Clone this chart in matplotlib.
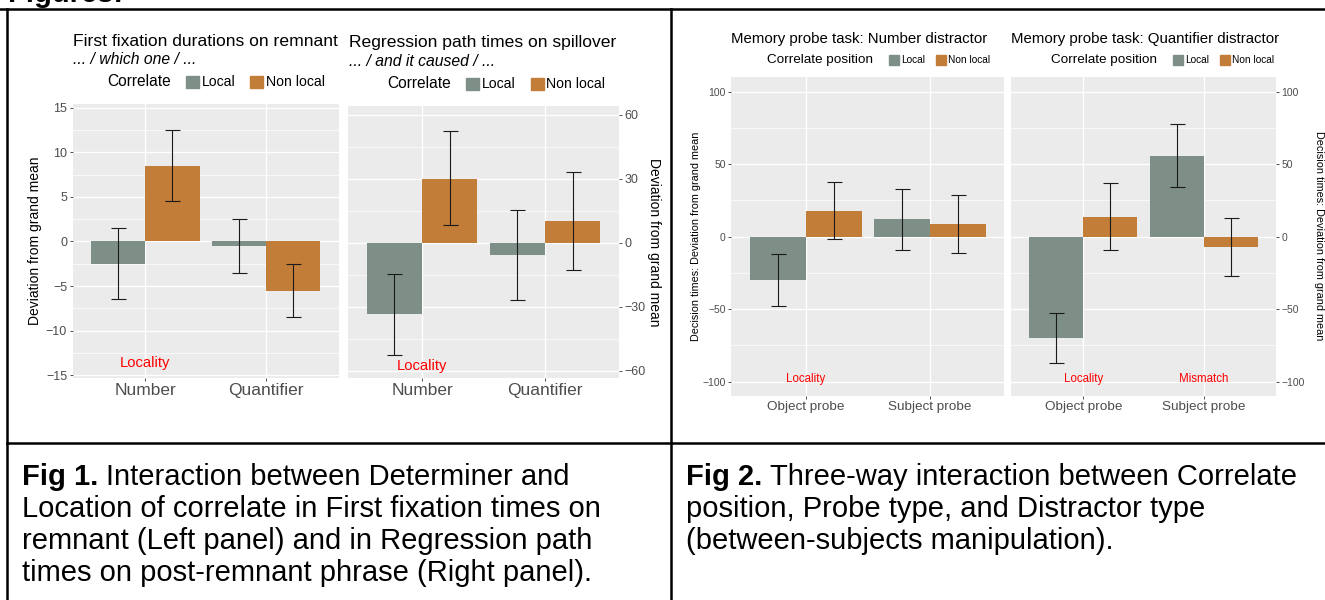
#!/usr/bin/env python3
import numpy as np

import matplotlib
matplotlib.use("Agg")
import matplotlib.pyplot as plt
from matplotlib.lines import Line2D
from matplotlib.patches import Rectangle

W, H = 1325, 600

LOCAL_COLOR = "#7E8F88"
NONLOCAL_COLOR = "#C27D38"
TICK_GRAY = "#4D4D4D"

# Fig 1 data
fig1_cats = ["Number", "Quantifier"]
ffd_local = [-2.5, -0.5]
ffd_local_lo = [-6.5, -3.5]
ffd_local_hi = [1.5, 2.5]
ffd_nonlocal = [8.5, -5.5]
ffd_nonlocal_lo = [4.5, -8.5]
ffd_nonlocal_hi = [12.5, -2.5]

rpt_local = [-33.6, -5.8]
rpt_local_lo = [-52.9, -26.8]
rpt_local_hi = [-14.9, 15.2]
rpt_nonlocal = [30.0, 10.2]
rpt_nonlocal_lo = [8.1, -12.7]
rpt_nonlocal_hi = [52.3, 33.2]

# Fig 2 data
fig2_cats = ["Object probe", "Subject probe"]
num_local = [-30.1, 12.0]
num_local_lo = [-47.8, -9.0]
num_local_hi = [-12.2, 32.9]
num_nonlocal = [17.7, 9.0]
num_nonlocal_lo = [-1.8, -11.0]
num_nonlocal_hi = [37.9, 29.0]

quant_local = [-70.1, 55.9]
quant_local_lo = [-86.9, 34.0]
quant_local_hi = [-52.9, 77.9]
quant_nonlocal = [13.8, -6.9]
quant_nonlocal_lo = [-9.4, -27.1]
quant_nonlocal_hi = [37.0, 12.9]

caption1 = [
    "Interaction between Determiner and",
    "Location of correlate in First fixation times on",
    "remnant (Left panel) and in Regression path",
    "times on post-remnant phrase (Right panel).",
]
caption2 = [
    "Three-way interaction between Correlate",
    "position, Probe type, and Distractor type",
    "(between-subjects manipulation).",
]


def px_rect(x0, y0, x1, y1):
    return [x0 / W, 1 - y1 / H, (x1 - x0) / W, (y1 - y0) / H]


def ftext(fig, x, y, s, **kw):
    kw.setdefault("va", "center")
    return fig.text(x / W, 1 - y / H, s, **kw)


def draw_panel(fig, rect, cats, local, local_lo, local_hi, nonlocal_, nl_lo, nl_hi,
               ylim, yticks, yminor, side, tick_fs, xtick_fs, notes, note_y, note_fs):
    ax = fig.add_axes(px_rect(*rect))
    ax.set_facecolor("#EBEBEB")
    x = np.arange(1, len(cats) + 1)
    w = 0.45
    local = np.asarray(local)
    nonlocal_ = np.asarray(nonlocal_)
    ax.bar(x - w / 2, local, width=w, color=LOCAL_COLOR, zorder=2)
    ax.bar(x + w / 2, nonlocal_, width=w, color=NONLOCAL_COLOR, zorder=2)
    ax.errorbar(x - w / 2, local, yerr=[local - np.asarray(local_lo), np.asarray(local_hi) - local],
                fmt="none", ecolor="#1A1A1A", elinewidth=0.8, capsize=5.4, capthick=0.8, zorder=3)
    ax.errorbar(x + w / 2, nonlocal_, yerr=[nonlocal_ - np.asarray(nl_lo), np.asarray(nl_hi) - nonlocal_],
                fmt="none", ecolor="#1A1A1A", elinewidth=0.8, capsize=5.4, capthick=0.8, zorder=3)
    ax.set_xlim(0.4, 2.6)
    ax.set_ylim(*ylim)
    ax.set_xticks(x, cats, fontsize=xtick_fs, color=TICK_GRAY)
    ax.set_yticks(yticks)
    ax.set_yticks(yminor, minor=True)
    ax.set_yticklabels([f"{t:g}".replace("-", "\u2212") for t in yticks], fontsize=tick_fs, color=TICK_GRAY)
    ax.grid(which="major", color="white", linewidth=1.0)
    ax.grid(which="minor", axis="y", color="white", linewidth=0.5)
    ax.set_axisbelow(True)
    for s in ax.spines.values():
        s.set_visible(False)
    ax.tick_params(which="major", length=2.5, width=0.6, color="#333333", pad=1.5)
    ax.tick_params(axis="x", pad=1.0)
    ax.tick_params(which="minor", length=0)
    if side == "right":
        ax.yaxis.tick_right()
    for label, xi in notes:
        ax.text(xi, note_y, label, color="red", ha="center", va="center", fontsize=note_fs)
    return ax


def legend(fig, x_title, title, y, sw, sh, x_sw1, x_sw2, fs_title, fs_item):
    ftext(fig, x_title, y, title, fontsize=fs_title)
    for xs, color, lab in [(x_sw1, LOCAL_COLOR, "Local"), (x_sw2, NONLOCAL_COLOR, "Non local")]:
        fig.patches.append(Rectangle((xs / W, 1 - (y + sh / 2) / H), sw / W, sh / H,
                                     transform=fig.transFigure, color=color, figure=fig))
        ftext(fig, xs + sw + 2.5, y, lab, fontsize=fs_item)


def caption(fig, x, y0, bold, lines, fs=21, step=32):
    renderer = fig.canvas.get_renderer()
    t = ftext(fig, x, y0, bold, fontsize=fs, fontweight="bold")
    bb = t.get_window_extent(renderer)
    space = 0.278 * fs * 100 / 72
    ftext(fig, bb.x1 + space, y0, lines[0], fontsize=fs)
    for i, line in enumerate(lines[1:], start=1):
        ftext(fig, x, y0 + i * step, line, fontsize=fs)


def main() -> None:
    plt.rcParams["font.family"] = ["Liberation Sans", "DejaVu Sans"]
    fig = plt.figure(figsize=(W / 100, H / 100), dpi=100)

    # heading, cut by the top edge as in the page screenshot
    fig.text(8 / W, 1 - 2 / H, "Figures:", fontsize=21, fontweight="bold", va="baseline")

    # table lines
    for (xa, ya, xb, yb) in [(0, 8.5, W, 8.5), (6.5, 8.5, 6.5, H), (670.5, 8.5, 670.5, H),
                             (6.5, 442.5, W, 442.5)]:
        fig.add_artist(Line2D([xa / W, xb / W], [1 - ya / H, 1 - yb / H], color="black",
                              linewidth=1.8, transform=fig.transFigure))

    # Fig 1 left panel
    draw_panel(fig, (72.6, 104, 338.5, 378), fig1_cats,
               ffd_local, ffd_local_lo, ffd_local_hi, ffd_nonlocal, ffd_nonlocal_lo, ffd_nonlocal_hi,
               (-15.3, 15.4), [-15, -10, -5, 0, 5, 10, 15], [-12.5, -7.5, -2.5, 2.5, 7.5, 12.5],
               "left", 9, 12.5, [("Locality", 1)], -13.6, 10.6)
    # Fig 1 right panel
    draw_panel(fig, (348.3, 106, 618.8, 378), fig1_cats,
               rpt_local, rpt_local_lo, rpt_local_hi, rpt_nonlocal, rpt_nonlocal_lo, rpt_nonlocal_hi,
               (-63.5, 64.0), [-60, -30, 0, 30, 60], [-45, -15, 15, 45],
               "right", 9, 12.5, [("Locality", 1)], -58, 10.6)

    ftext(fig, 72.6, 42, "First fixation durations on remnant", fontsize=12.6)
    ftext(fig, 73, 59, "... / which one / ...", fontsize=11.3, style="italic")
    ftext(fig, 349, 42, "Regression path times on spillover", fontsize=12.6)
    ftext(fig, 349, 61, "... / and it caused / ...", fontsize=11.3, style="italic")
    legend(fig, 107, "Correlate", 82, 13, 12, 186, 250, 11.2, 10.1)
    legend(fig, 387, "Correlate", 84, 13, 12, 466, 531, 11.2, 10.1)
    ftext(fig, 35, 241, "Deviation from grand mean", fontsize=10, rotation=90, ha="center")
    ftext(fig, 654, 242, "Deviation from grand mean", fontsize=10, rotation=270, ha="center")

    # Fig 2 panels
    draw_panel(fig, (731.4, 77.3, 1004.2, 396), fig2_cats,
               num_local, num_local_lo, num_local_hi, num_nonlocal, num_nonlocal_lo, num_nonlocal_hi,
               (-110, 110), [-100, -50, 0, 50, 100], [-75, -25, 25, 75],
               "left", 7.5, 9.7, [("Locality", 1)], -98, 8.3)
    draw_panel(fig, (1011.3, 77.3, 1275.7, 396), fig2_cats,
               quant_local, quant_local_lo, quant_local_hi, quant_nonlocal, quant_nonlocal_lo,
               quant_nonlocal_hi,
               (-110, 110), [-100, -50, 0, 50, 100], [-75, -25, 25, 75],
               "right", 7.5, 9.7, [("Locality", 1), ("Mismatch", 2)], -98, 8.3)

    ftext(fig, 731, 39, "Memory probe task: Number distractor", fontsize=10.8)
    ftext(fig, 1011, 39, "Memory probe task: Quantifier distractor", fontsize=10.8)
    legend(fig, 767, "Correlate position", 60, 10, 10, 889, 936, 9.7, 7.3)
    legend(fig, 1051, "Correlate position", 60, 10, 10, 1173, 1220, 9.7, 7.3)
    ftext(fig, 696, 236, "Decision times: Deviation from grand mean", fontsize=7.8, rotation=90, ha="center")
    ftext(fig, 1319, 236, "Decision times: Deviation from grand mean", fontsize=7.8, rotation=270, ha="center")

    # captions
    caption(fig, 22, 477, "Fig 1.", caption1)
    caption(fig, 686, 477, "Fig 2.", caption2)

    fig.savefig("out.png", dpi=100)
    plt.close(fig)


if __name__ == "__main__":
    main()
